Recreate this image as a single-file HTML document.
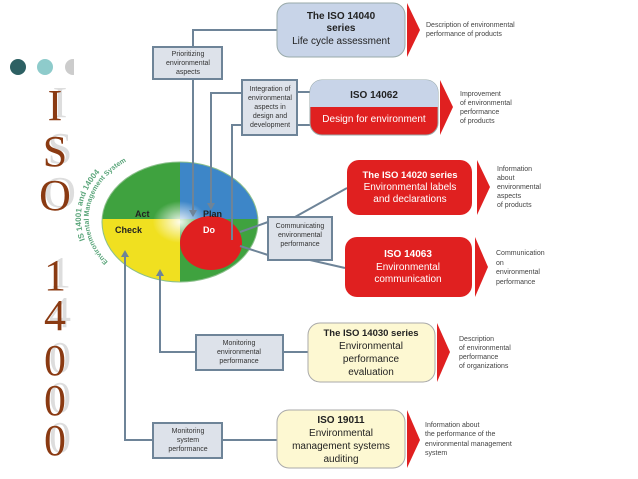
<!DOCTYPE html>
<html><head><meta charset="utf-8"><style>
body{margin:0;background:#fff;}
svg{display:block;font-family:"Liberation Sans",sans-serif;}
.lt{font-size:7px;fill:#444;}
.bx{font-size:7px;fill:#333;text-anchor:middle;}
.ser{font-family:"Liberation Serif",serif;font-size:44px;}
</style></head><body>
<svg width="638" height="479" viewBox="0 0 638 479">
<defs>
<radialGradient id="gl" cx="0.5" cy="0.5" r="0.5"><stop offset="0" stop-color="#fff" stop-opacity="0.9"/><stop offset="0.35" stop-color="#fff" stop-opacity="0"/></radialGradient>
<clipPath id="ec"><ellipse cx="180" cy="222" rx="78" ry="60"/></clipPath>
<path id="p1" d="M85,240 A95,76 0 0 1 210,147"/>
<path id="p2" d="M108,262 A82,66 0 0 1 240,175"/>
</defs>
<circle cx="18" cy="67" r="8" fill="#2d6063"/>
<circle cx="45" cy="67" r="8" fill="#8ecbcb"/>
<circle cx="73" cy="67" r="8" fill="#ccc"/>
<rect x="74" y="55" width="10" height="20" fill="#fff"/>
<g class="ser" text-anchor="middle">
<g fill="#ddd" transform="translate(5,-3)">
<text x="55" y="120">I</text><text x="55" y="166">S</text><text x="55" y="210">O</text>
<text x="55" y="290">1</text><text x="55" y="330">4</text><text x="55" y="375">0</text><text x="55" y="415">0</text><text x="55" y="455">0</text></g>
<g fill="#8a3a12">
<text x="55" y="120">I</text><text x="55" y="166">S</text><text x="55" y="210">O</text>
<text x="55" y="290">1</text><text x="55" y="330">4</text><text x="55" y="375">0</text><text x="55" y="415">0</text><text x="55" y="455">0</text></g>
</g>
<!-- circle -->
<g clip-path="url(#ec)">
<rect x="100" y="160" width="80" height="59" fill="#3fa23f"/>
<rect x="180" y="160" width="80" height="59" fill="#3d86c8"/>
<rect x="100" y="219" width="80" height="65" fill="#f0e020"/>
<rect x="180" y="219" width="80" height="65" fill="#3fa23f"/>
<ellipse cx="180" cy="222" rx="78" ry="60" fill="url(#gl)"/>
</g>
<ellipse cx="180" cy="222" rx="78" ry="60" fill="none" stroke="#8bbf8b" stroke-width="1"/>
<ellipse cx="211" cy="243" rx="31" ry="27" fill="#e02020"/>
<text font-size="8" fill="#5aa57a" font-weight="bold"><textPath href="#p1">IS 14001 and 14004</textPath></text>
<text font-size="7" fill="#5aa57a" font-weight="bold"><textPath href="#p2">Environmental Management System</textPath></text>
<g font-size="9" font-weight="bold">
<text x="135" y="217" fill="#222">Act</text><text x="203" y="217" fill="#222">Plan</text>
<text x="115" y="233" fill="#222">Check</text><text x="203" y="233" fill="#fff">Do</text></g>
<!-- connectors -->
<g stroke="#6e8498" stroke-width="2" fill="none">
<polyline points="278,30 193,30 193,47"/>
<line x1="193" y1="79" x2="193" y2="212"/>
<polyline points="242,93 211,93 211,205"/>
<polyline points="242,125 232,125 232,240"/>
<line x1="297" y1="92" x2="310" y2="92"/><line x1="297" y1="125" x2="310" y2="125"/>
<line x1="240" y1="232" x2="268" y2="222"/><line x1="240" y1="246" x2="268" y2="255"/>
<line x1="295" y1="217" x2="347" y2="188"/><line x1="310" y1="260" x2="345" y2="268"/>
<polyline points="196,352 160,352 160,275"/>
<line x1="283" y1="352" x2="308" y2="352"/>
<polyline points="153,440 125,440 125,256"/>
<line x1="222" y1="440" x2="277" y2="440"/>
</g>
<g fill="#6e8498">
<polygon points="189,210 197,210 193,217"/><polygon points="207,203 215,203 211,210"/>
<polygon points="156,276 164,276 160,269"/><polygon points="121,257 129,257 125,250"/>
</g>
<!-- gray label boxes -->
<g fill="#dde2ea" stroke="#6e8498" stroke-width="2">
<rect x="153" y="47" width="69" height="32"/>
<rect x="242" y="80" width="55" height="55"/>
<rect x="268" y="217" width="64" height="43"/>
<rect x="196" y="335" width="87" height="35"/>
<rect x="153" y="423" width="69" height="35"/>
</g>
<g class="bx">
<text x="188" y="56">Prioritizing</text><text x="188" y="65">environmental</text><text x="188" y="74">aspects</text>
<text x="270" y="91">Integration of</text><text x="270" y="100">environmental</text><text x="270" y="109">aspects in</text><text x="270" y="118">design and</text><text x="270" y="127">development</text>
<text x="300" y="228">Communicating</text><text x="300" y="237">environmental</text><text x="300" y="246">performance</text>
<text x="239" y="345">Monitoring</text><text x="239" y="354">environmental</text><text x="239" y="363">performance</text>
<text x="188" y="433">Monitoring</text><text x="188" y="442">system</text><text x="188" y="451">performance</text>
</g>
<!-- main boxes -->
<rect x="277" y="3" width="128" height="54" rx="12" fill="#c8d4e8" stroke="#9aa" />
<text x="341" y="19" font-size="10" font-weight="bold" text-anchor="middle" fill="#222">The ISO 14040</text>
<text x="341" y="31" font-size="10" font-weight="bold" text-anchor="middle" fill="#222">series</text>
<text x="341" y="44" font-size="10" text-anchor="middle" fill="#222">Life cycle assessment</text>
<polygon points="407,3 420,30 407,57" fill="#e02020"/>

<rect x="310" y="80" width="128" height="55" rx="12" fill="#e02020" stroke="#9aa"/>
<path d="M310,107 V92 a12,12 0 0 1 12,-12 H426 a12,12 0 0 1 12,12 V107 Z" fill="#c8d4e8"/>
<text x="374" y="98" font-size="10" font-weight="bold" text-anchor="middle" fill="#222">ISO 14062</text>
<text x="374" y="122" font-size="10" text-anchor="middle" fill="#fff">Design for environment</text>
<polygon points="440,80 453,107 440,135" fill="#e02020"/>

<rect x="347" y="160" width="125" height="55" rx="12" fill="#e02020"/>
<text x="410" y="178" font-size="9.5" font-weight="bold" text-anchor="middle" fill="#fff">The ISO 14020 series</text>
<text x="410" y="190" font-size="10" text-anchor="middle" fill="#fff">Environmental labels</text>
<text x="410" y="202" font-size="10" text-anchor="middle" fill="#fff">and declarations</text>
<polygon points="477,160 490,187 477,215" fill="#e02020"/>

<rect x="345" y="237" width="127" height="60" rx="12" fill="#e02020"/>
<text x="408" y="257" font-size="10" font-weight="bold" text-anchor="middle" fill="#fff">ISO 14063</text>
<text x="408" y="270" font-size="10" text-anchor="middle" fill="#fff">Environmental</text>
<text x="408" y="282" font-size="10" text-anchor="middle" fill="#fff">communication</text>
<polygon points="475,237 488,267 475,297" fill="#e02020"/>

<rect x="308" y="323" width="127" height="59" rx="12" fill="#fdf8d2" stroke="#aaa"/>
<text x="371" y="336" font-size="9.5" font-weight="bold" text-anchor="middle" fill="#222">The ISO 14030 series</text>
<text x="371" y="349" font-size="10" text-anchor="middle" fill="#222">Environmental</text>
<text x="371" y="362" font-size="10" text-anchor="middle" fill="#222">performance</text>
<text x="371" y="375" font-size="10" text-anchor="middle" fill="#222">evaluation</text>
<polygon points="437,323 450,352 437,382" fill="#e02020"/>

<rect x="277" y="410" width="128" height="58" rx="12" fill="#fdf8d2" stroke="#aaa"/>
<text x="341" y="423" font-size="10" font-weight="bold" text-anchor="middle" fill="#222">ISO 19011</text>
<text x="341" y="436" font-size="10" text-anchor="middle" fill="#222">Environmental</text>
<text x="341" y="449" font-size="10" text-anchor="middle" fill="#222">management systems</text>
<text x="341" y="462" font-size="10" text-anchor="middle" fill="#222">auditing</text>
<polygon points="407,410 420,440 407,468" fill="#e02020"/>
<!-- right texts -->
<g class="lt">
<text x="426" y="27">Description of environmental</text><text x="426" y="36">performance of products</text>
<text x="460" y="96">Improvement</text><text x="460" y="105">of environmental</text><text x="460" y="114">performance</text><text x="460" y="123">of products</text>
<text x="497" y="171">Information</text><text x="497" y="180">about</text><text x="497" y="189">environmental</text><text x="497" y="198">aspects</text><text x="497" y="207">of products</text>
<text x="496" y="255">Communication</text><text x="496" y="265">on</text><text x="496" y="274">environmental</text><text x="496" y="284">performance</text>
<text x="459" y="341">Description</text><text x="459" y="350">of environmental</text><text x="459" y="359">performance</text><text x="459" y="368">of organizations</text>
<text x="425" y="427">Information about</text><text x="425" y="436">the performance of the</text><text x="425" y="446">environmental management</text><text x="425" y="455">system</text>
</g>
</svg>
</body></html>
